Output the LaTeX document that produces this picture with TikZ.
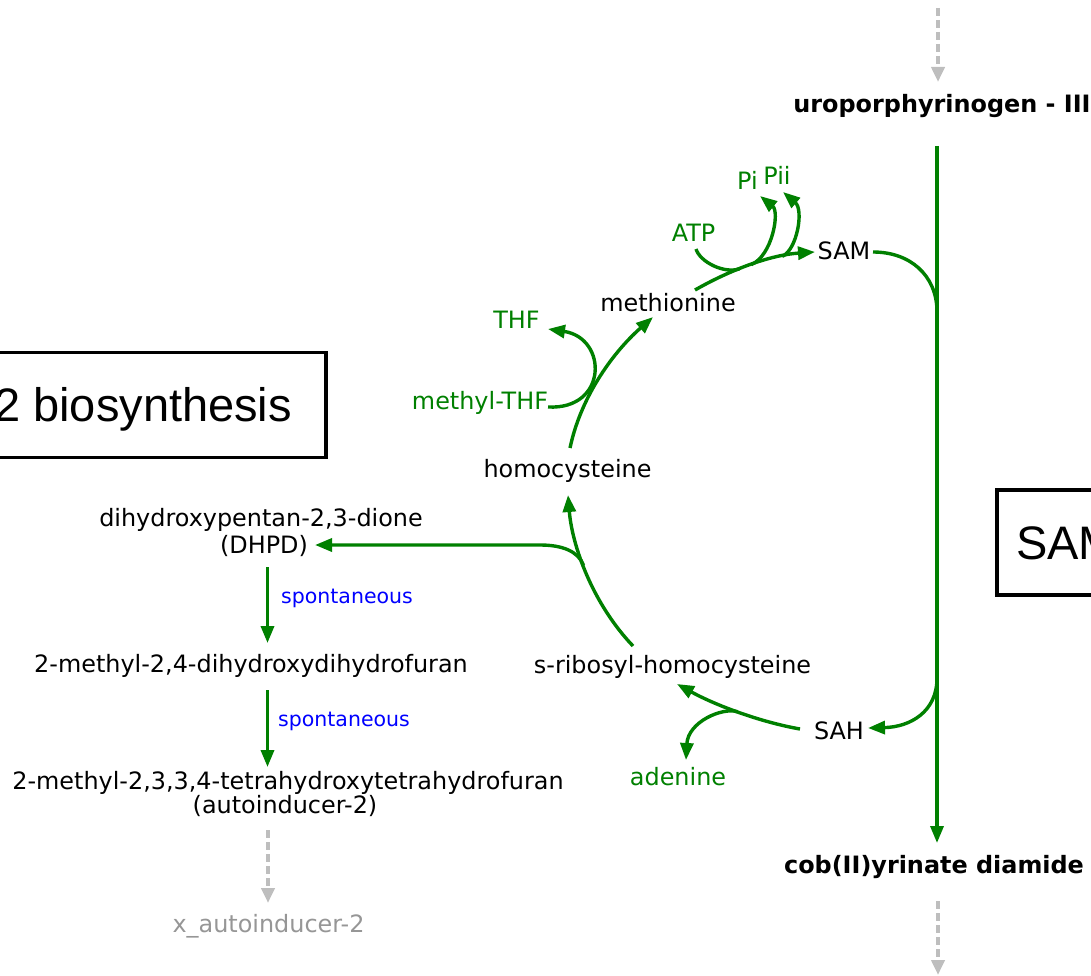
\documentclass[tikz,border=0pt]{standalone}
\usepackage{fontspec}
\setmainfont{DejaVu Sans}
\newfontfamily\boxfont{Liberation Sans}
\usetikzlibrary{arrows.meta,calc}
\definecolor{pathgreen}{RGB}{0,128,0}
\definecolor{labelblue}{RGB}{0,0,255}
\definecolor{linkgray}{RGB}{190,190,190}
\definecolor{outgray}{RGB}{150,150,150}

\tikzset{
  cpd/.style={inner sep=2pt, outer sep=0pt, anchor=base, text=black,
    font=\fontsize{23.9pt}{28pt}\selectfont},
  maincpd/.style={cpd, font=\fontsize{23.9pt}{28pt}\selectfont\bfseries},
  side/.style={cpd, text=pathgreen},
  outcpd/.style={cpd, text=outgray},
  enzlabel/.style={cpd, text=labelblue, font=\fontsize{20.5pt}{24pt}\selectfont},
  flowline/.style={draw=pathgreen, line width=3.4pt},
  flow/.style={flowline, -{Triangle[length=17pt,width=13pt]}},
  link/.style={draw=linkgray, line width=4pt, dash pattern=on 8pt off 4pt,
    -{Triangle[length=15pt,width=13pt]}},
  pathwaybox/.style={draw=black, line width=3.2pt, outer sep=0pt,
    font=\boxfont\fontsize{47pt}{56pt}\selectfont,
    minimum height=105pt, text height=33.6pt, text depth=0pt},
}

\begin{document}
\begin{tikzpicture}[x=1pt,y=-1pt]
\useasboundingbox (0,0) rectangle (1091,976);
\clip (0,0) rectangle (1091,976);

% pathway boxes
\node[pathwaybox, anchor=east, inner xsep=34pt] (b12box) at (326,405) {2 biosynthesis};
\node[pathwaybox, anchor=west, inner xsep=19pt] (sambox) at (997,542.5) {SAM};

% main compounds
\node[maincpd] (uro) at (942,113) {uroporphyrinogen - III};
\node[maincpd] (cob) at (934,873) {cob(II)yrinate diamide};
\node[cpd] (sam) at (844,259) {SAM};
\node[cpd] (sah) at (839,739) {SAH};
\node[cpd] (met) at (668,311) {methionine};
\node[cpd] (hcy) at (567.5,477) {homocysteine};
\node[cpd] (srh) at (672.5,673) {s-ribosyl-homocysteine};
\node[cpd] (dhpdname) at (261,526) {dihydroxypentan-2,3-dione};
\node[cpd] (dhpd) at (264,553) {(DHPD)};
\node[cpd] (mdf) at (251,672) {2-methyl-2,4-dihydroxydihydrofuran};
\node[cpd] (ainame) at (288,789) {2-methyl-2,3,3,4-tetrahydroxytetrahydrofuran};
\node[cpd] (ai) at (285,813) {(autoinducer-2)};
\node[outcpd] (xai) at (268.5,932) {x\_autoinducer-2};

% side compounds
\node[side] (atp) at (693.5,241) {ATP};
\node[side] (pi) at (747.5,190) {Pi};
\node[side] (pii) at (777,185) {Pii};
\node[side] (thf) at (516.5,328) {THF};
\node[side] (mthf) at (480,409) {methyl-THF};
\node[side] (ade) at (678,785) {adenine};

% reaction labels
\node[enzlabel] (sp1) at (347,603) {spontaneous};
\node[enzlabel] (sp2) at (344,726) {spontaneous};

% links to neighbouring pathways
\draw[link] ($(uro.base)+(-4,-105)$) -- ($(uro.base)+(-4,-31)$);
\draw[link] ($(cob.base)+(4,28)$) -- ($(cob.base)+(4,102)$);
\draw[link] ($(ai.base)+(-17,17)$) -- ($(xai.base)+(-0.5,-29)$);

% main spine of the pathway
\draw[flow] ($(uro.base)+(-5,33)$) -- ($(cob.base)+(3,-30)$);
\draw[flowline] ($(sam.base)+(29,-7)$) .. controls (910,252) and (936,275) .. ($(uro.base)+(-5,197)$);
\draw[flow] ($(cob.base)+(3,-195)$) .. controls (937,712) and (910,727) .. ($(sah.base)+(29,-11)$);

% methionine -> SAM with ATP in, Pi and Pii out
\draw[flow] ($(met.base)+(27,-21)$) .. controls (730,270) and (770,255) .. ($(sam.base)+(-29,-7)$)
  coordinate[pos=0.4] (jatp) coordinate[pos=0.5] (jpi) coordinate[pos=0.75] (jpii);
\draw[flowline] ($(atp.base)+(2.5,8)$) .. controls (700,262) and (724,274) .. (jatp);
\draw[flow] (jpi) .. controls (772,256) and (780,212) .. ($(pi.base)+(12.5,6)$);
\draw[flow] (jpii) .. controls (797,250) and (804,210) .. ($(pii.base)+(6,7)$);

% homocysteine -> methionine with methyl-THF -> THF
\draw[flow] ($(hcy.base)+(2.5,-29)$) .. controls (580,400) and (610,355) .. ($(met.base)+(-15,6)$);
\draw[flow] ($(mthf.base)+(68,-2)$) .. controls (608,410) and (608,338) .. ($(thf.base)+(31.5,1)$);

% s-ribosyl-homocysteine -> homocysteine + DHPD
\draw[flow] ($(srh.base)+(-39.5,-27)$) .. controls (592,603) and (572,545) .. ($(hcy.base)+(0.5,18)$)
  coordinate[pos=0.55] (jdhpd);
\draw[flow] (jdhpd) .. controls (578,551) and (562,545) .. ($(dhpd.base)+(276,-8)$) -- ($(dhpd.base)+(51,-8)$);

% SAH -> s-ribosyl-homocysteine + adenine
\draw[flow] ($(sah.base)+(-39,-10)$) .. controls (760,722) and (715,705) .. ($(srh.base)+(4.5,11)$)
  coordinate[pos=0.5] (jade);
\draw[flow] (jade) .. controls (722,707) and (688,722) .. ($(ade.base)+(8,-25)$);

% spontaneous steps to autoinducer-2
\draw[flow] ($(dhpd.base)+(3.5,14)$) -- ($(mdf.base)+(16.5,-29)$);
\draw[flow] ($(mdf.base)+(16.5,18)$) -- ($(ainame.base)+(-20.5,-22)$);
\end{tikzpicture}
\end{document}
